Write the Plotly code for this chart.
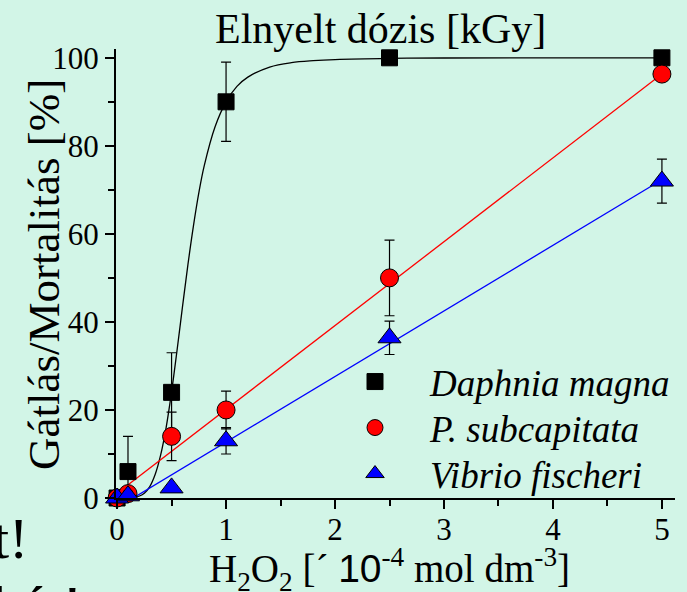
import plotly.graph_objects as go

# ---- data ----
x_conc = [0, 0.1, 0.5, 1, 2.5, 5]

daphnia = [0, 6, 24, 90, 100, 100]
daphnia_err = [0, 8, 9, 9, 0, 0]

subcap = [0, 1, 14, 20, 50, 96.3]
subcap_err = [0, 1, 5.5, 4.3, 8.6, 1]

vibrio = [0, 0.5, 2.3, 13, 36.4, 72]
vibrio_err = [0, 1, 0, 3, 3.8, 5]

# fitted curve for Daphnia magna
fit_d_x = [0, 0.1, 0.2, 0.25, 0.3, 0.35, 0.4, 0.45, 0.5, 0.55, 0.6, 0.65, 0.7,
           0.75, 0.8, 0.9, 1.0, 1.1, 1.2, 1.4, 1.6, 1.8, 2.0, 2.5, 3, 4, 5]
fit_d_y = [0, 0.01, 0.4, 1.1, 2.6, 5.4, 9.8, 16.0, 24.1, 33.5, 43.4, 53.0, 61.7,
           69.3, 75.5, 84.4, 90.0, 93.5, 95.6, 97.9, 98.9, 99.35, 99.6, 99.87, 99.95, 99.99, 100]

# linear fits (end points)
fit_lin_x = [0, 5]
fit_s_y = [1.1, 96.3]
fit_v_y = [-2.2, 72.3]

x_ticks = [0, 1, 2, 3, 4, 5]
y_ticks = [0, 20, 40, 60, 80, 100]

SERIF = "Liberation Serif"
BG = "#d2f5e7"

# plot area in pixels: x 116..675, y 49..498
PW, PH = 559, 449

fig = go.Figure()

fig.add_trace(go.Scatter(x=fit_d_x, y=fit_d_y, mode="lines",
                         line=dict(color="black", width=1.3, shape="spline"),
                         showlegend=False, hoverinfo="skip"))
fig.add_trace(go.Scatter(x=fit_lin_x, y=fit_s_y, mode="lines",
                         line=dict(color="#ff0000", width=1.3),
                         showlegend=False, hoverinfo="skip"))
fig.add_trace(go.Scatter(x=fit_lin_x, y=fit_v_y, mode="lines",
                         line=dict(color="#0000ff", width=1.3),
                         showlegend=False, hoverinfo="skip"))

err_style = dict(type="data", visible=True, color="black", thickness=1.2, width=5)

fig.add_trace(go.Scatter(
    x=x_conc, y=daphnia, mode="markers", name="Daphnia magna",
    error_y=dict(array=daphnia_err, **err_style),
    marker=dict(symbol="square", size=16, color="black",
                line=dict(color="black", width=1)),
    cliponaxis=False, legend="legend"))
fig.add_trace(go.Scatter(
    x=x_conc, y=subcap, mode="markers", name="P. subcapitata",
    error_y=dict(array=subcap_err, **err_style),
    marker=dict(symbol="circle", size=18, color="#ff0000",
                line=dict(color="black", width=1)),
    cliponaxis=False, legend="legend2"))
fig.add_trace(go.Scatter(
    x=x_conc, y=vibrio, mode="markers", name="Vibrio fischeri",
    error_y=dict(array=vibrio_err, **err_style),
    marker=dict(symbol="triangle-up", size=20, color="#0000ff",
                line=dict(color="black", width=1)),
    cliponaxis=False, legend="legend3"))


def leg(ypx):
    return dict(
        x=(320 - 116) / PW, y=(498 - ypx) / PH, xanchor="left", yanchor="middle",
        bgcolor="rgba(0,0,0,0)", borderwidth=0,
        font=dict(family=SERIF, size=37, style="italic"),
        itemwidth=100,
    )


fig.update_layout(
    width=687, height=592,
    margin=dict(l=116, r=12, t=49, b=94, autoexpand=False),
    paper_bgcolor=BG,
    plot_bgcolor="rgba(0,0,0,0)",
    font=dict(family=SERIF, size=30, color="black"),
    showlegend=True,
    legend=leg(382), legend2=leg(428), legend3=leg(474),
    xaxis=dict(
        range=[-0.01, 5.12], tickvals=x_ticks, ticktext=[str(v) for v in x_ticks],
        showgrid=False, zeroline=False, showline=True, linecolor="black", linewidth=2,
        ticks="outside", ticklen=9, tickwidth=1.5, tickcolor="black",
        minor=dict(dtick=0.5, ticks="outside", ticklen=6, tickwidth=1.5, tickcolor="black"),
        tickfont=dict(family=SERIF, size=31), automargin=False, ticklabelstandoff=-6,
    ),
    yaxis=dict(
        range=[0, 102], tickvals=y_ticks, ticktext=[str(v) for v in y_ticks],
        showgrid=False, zeroline=False, showline=True, linecolor="black", linewidth=2,
        ticks="outside", ticklen=9, tickwidth=1.5, tickcolor="black",
        minor=dict(dtick=10, ticks="outside", ticklen=6, tickwidth=1.5, tickcolor="black"),
        tickfont=dict(family=SERIF, size=31), automargin=False,
    ),
    annotations=[
        dict(text="Elnyelt dózis [kGy]", xref="paper", yref="paper",
             x=(380 - 116) / PW, y=(498 - 29) / PH, xanchor="center", yanchor="middle",
             showarrow=False, font=dict(family=SERIF, size=42)),
        dict(text='H<sub>2</sub>O<sub>2</sub> [´ <span style="font-family:Liberation Sans">10</span><sup>-4</sup> mol dm<sup>-3</sup>]',
             xref="paper", yref="paper",
             x=(389 - 116) / PW, y=(498 - 569) / PH, xanchor="center", yanchor="middle",
             showarrow=False, font=dict(family=SERIF, size=39)),
        dict(text="Gátlás/Mortalitás [%]", xref="paper", yref="paper",
             x=(44 - 116) / PW, y=(498 - 275) / PH, xanchor="center", yanchor="middle",
             textangle=-90, showarrow=False, font=dict(family=SERIF, size=45)),
        dict(text="t!", xref="paper", yref="paper",
             x=(30 - 116) / PW, y=(498 - 538) / PH, xanchor="right", yanchor="middle",
             showarrow=False, font=dict(family=SERIF, size=58)),
        dict(text="kát!", xref="paper", yref="paper",
             x=(-10 - 116) / PW, y=(498 - 572) / PH, xanchor="left", yanchor="top",
             showarrow=False, font=dict(family=SERIF, size=58)),
    ],
)

fig.write_html(
    "out.html",
    config={"displayModeBar": False},
    post_script="document.body.style.margin='0';document.body.style.background='%s';" % BG,
)
